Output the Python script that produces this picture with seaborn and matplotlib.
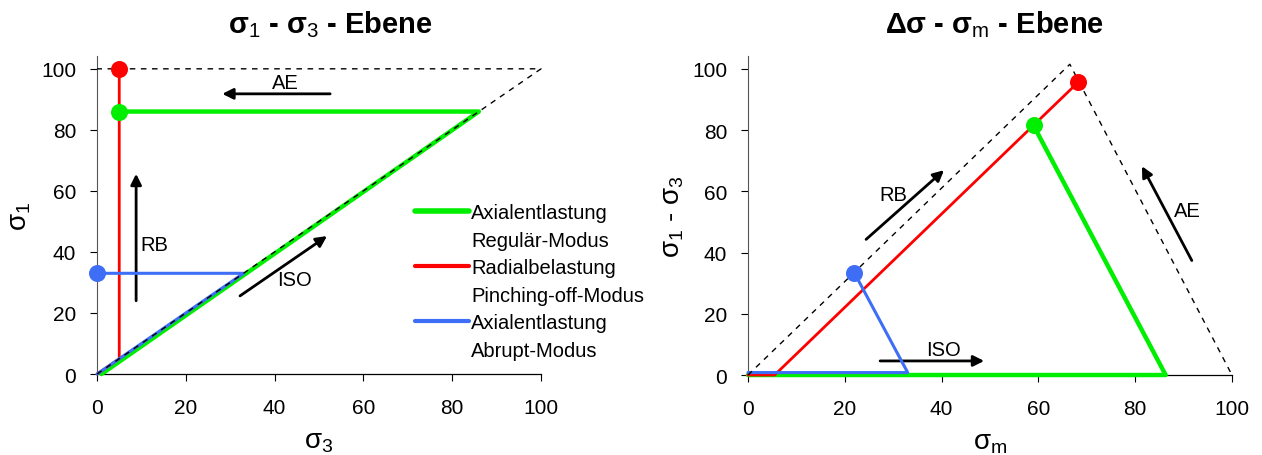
import matplotlib
matplotlib.use("Agg")
import matplotlib.pyplot as plt
from matplotlib.lines import Line2D
import seaborn as sns
import pandas as pd

# ---- sigma_1 - sigma_3 plane ----
ref_s3 = [0, 100, 0]
ref_s1 = [0, 100, 100]

ae_s3 = [1, 86, 5]          # Axialentlastung, Regulär-Modus
ae_s1 = [0, 86, 86]
rb_s3 = [0, 5, 5]           # Radialbelastung, Pinching-off-Modus
rb_s1 = [0, 5, 100]
ab_s3 = [0, 33, 0]          # Axialentlastung, Abrupt-Modus
ab_s1 = [0, 33, 33]

# ---- delta sigma - sigma_m plane ----
ref_m = [0, 66.5, 100]
ref_d = [0, 101.5, 0]

ae_m = [0, 86.3, 59]
ae_d = [0, 0, 81.5]
rb_m = [0, 5.5, 68.2]
rb_d = [0, 0, 95.6]
ab_m = [0, 33, 22]
ab_d = [0.8, 0.8, 33.3]

ticks = [0, 20, 40, 60, 80, 100]

series_labels = ["Axialentlastung", "Regulär-Modus",
                 "Radialbelastung", "Pinching-off-Modus",
                 "Axialentlastung", "Abrupt-Modus"]

GREEN = "#00ee00"
RED = "#ff0000"
BLUE = "#3d6ef5"

sns.set_theme(style="ticks")
plt.rcParams["font.family"] = ["Liberation Sans", "DejaVu Sans"]
plt.rcParams["mathtext.fontset"] = "custom"
plt.rcParams["mathtext.rm"] = "Liberation Sans"
plt.rcParams["mathtext.it"] = "Liberation Sans"
plt.rcParams["mathtext.bf"] = "Liberation Sans:bold"
plt.rcParams["text.color"] = "black"
plt.rcParams["axes.labelcolor"] = "black"

fig = plt.figure(figsize=(12.62, 4.56), dpi=100)
axL = fig.add_axes([0.0769, 0.1776, 0.3518, 0.6974])
axR = fig.add_axes([0.5927, 0.1754, 0.3835, 0.6996])

FS = 14.5
TFS = 15


def path(ax, x, y, color, lw, z, dashed=False):
    df = pd.DataFrame({"x": x, "y": y})
    sns.lineplot(data=df, x="x", y="y", sort=False, estimator=None, ax=ax,
                 color=color, lw=lw, zorder=z, clip_on=False,
                 linestyle=(0, (4, 4)) if dashed else "-")


def dot(ax, x, y, color, z):
    sns.scatterplot(x=[x], y=[y], ax=ax, color=color, s=150, linewidth=0,
                    zorder=z, clip_on=False)


def arrow(ax, start, end):
    ax.annotate("", xy=end, xytext=start,
                arrowprops=dict(arrowstyle="-|>", lw=2, color="black",
                                mutation_scale=16, shrinkA=0, shrinkB=0))


# left panel
path(axL, ae_s3, ae_s1, GREEN, 3.2, 3)
path(axL, rb_s3, rb_s1, RED, 2.0, 4)
path(axL, ab_s3, ab_s1, BLUE, 2.2, 5)
path(axL, ref_s3, ref_s1, "black", 1.0, 6, dashed=True)
dot(axL, ae_s3[-1], ae_s1[-1], GREEN, 7)
dot(axL, rb_s3[-1], rb_s1[-1], RED, 7)
dot(axL, ab_s3[-1], ab_s1[-1], BLUE, 7)

arrow(axL, (52.5, 91.8), (28.2, 91.8))
axL.text(42.3, 95.5, "AE", fontsize=FS, ha="center", va="center")
arrow(axL, (8.8, 24), (8.8, 65.6))
axL.text(13, 42.6, "RB", fontsize=FS, ha="center", va="center")
arrow(axL, (32.2, 25.6), (51.8, 45.2))
axL.text(44.5, 31, "ISO", fontsize=FS, ha="center", va="center")

handles = [Line2D([], [], color=GREEN, lw=4), Line2D([], [], color="none"),
           Line2D([], [], color=RED, lw=3), Line2D([], [], color="none"),
           Line2D([], [], color=BLUE, lw=3), Line2D([], [], color="none")]
axL.legend(handles, series_labels, loc="upper left",
           bbox_to_anchor=(0.716, 0.537), frameon=False, fontsize=FS,
           handlelength=2.7, handletextpad=0.1, labelspacing=0.42,
           borderpad=0, borderaxespad=0)

# right panel
path(axR, ae_m, ae_d, GREEN, 3.2, 3)
path(axR, rb_m, rb_d, RED, 2.0, 4)
path(axR, ab_m, ab_d, BLUE, 2.2, 5)
path(axR, ref_m, ref_d, "black", 1.0, 6, dashed=True)
dot(axR, ae_m[-1], ae_d[-1], GREEN, 7)
dot(axR, rb_m[-1], rb_d[-1], RED, 7)
dot(axR, ab_m[-1], ab_d[-1], BLUE, 7)

arrow(axR, (24.4, 44.3), (40.5, 66.9))
axR.text(30, 59, "RB", fontsize=FS, ha="center", va="center")
arrow(axR, (91.7, 37.4), (81.4, 68.2))
axR.text(90.8, 53.8, "AE", fontsize=FS, ha="center", va="center")
arrow(axR, (27.3, 4.6), (48.8, 4.6))
axR.text(40.5, 8.2, "ISO", fontsize=FS, ha="center", va="center")

for ax in (axL, axR):
    ax.set_xlim(0, 100)
    ax.set_ylim(0, 104.2)
    ax.set_xticks(ticks)
    ax.set_yticks(ticks)
    ax.tick_params(labelsize=TFS, colors="black", length=5, width=0.8,
                   direction="out")
    ax.tick_params(axis="x", pad=12)
    ax.tick_params(axis="y", pad=10)
    for s in ("top", "right"):
        ax.spines[s].set_visible(False)
    ax.spines["left"].set_linewidth(0.8)
    ax.spines["left"].set_color("#555555")
    ax.spines["bottom"].set_linewidth(0.9)
    ax.spines["bottom"].set_color("black")

axL.set_xlabel(r"$\sigma_3$", fontsize=20, labelpad=8)
axL.set_ylabel(r"$\sigma_1$", fontsize=20, labelpad=6)
axR.set_xlabel(r"$\sigma_m$", fontsize=20, labelpad=8)
axR.set_ylabel(r"$\sigma_1$ - $\sigma_3$", fontsize=20, labelpad=4)

axL.set_title(r"$\mathbf{\sigma}_1$ - $\mathbf{\sigma}_3$ - Ebene",
              fontsize=21, fontweight="bold", pad=17, x=0.525)
axR.set_title(r"$\mathbf{\Delta\sigma}$ - $\mathbf{\sigma}_m$ - Ebene",
              fontsize=21, fontweight="bold", pad=17, x=0.51)

fig.savefig("out.png", dpi=100)
